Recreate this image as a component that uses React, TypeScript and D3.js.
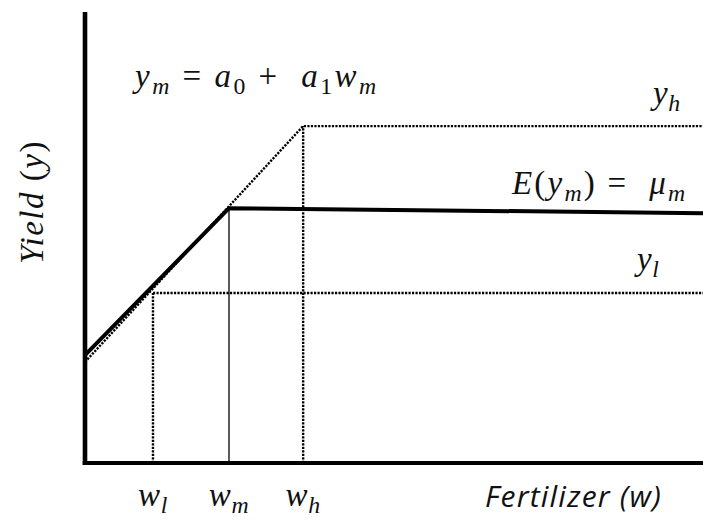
import React from 'react';
import * as d3 from 'd3';

const width = 703;
const height = 520;
const margin = { top: 12, left: 85, right: 0, bottom: 57 };

// fertilizer levels w_l, w_m, w_h (0-100 scale) and the yield reached at each
const wLevels = [11, 23.3, 35.3];
const wSubs = ['l', 'm', 'h'];
const wDotted = [true, false, true];
const wTops = [37.7, 56.5, 74.7];

// E(y_m) = mu_m, solid
const meanX = [0, 23.3, 100];
const meanY = [23.9, 56.5, 55.4];
// y_h, dotted
const highX = [0, 35.3, 100];
const highY = [22.4, 74.7, 74.7];
// y_l, dotted
const lowX = [11, 100];
const lowY = [37.7, 37.7];

const mathFont = "'Liberation Serif', serif";
const dots = '2.2 1.3';
const dotWidth = 2.4;

type Part = { t: string; sub?: boolean; up?: boolean };

function MathText({ x, y, parts, size = 33, anchor = 'start', transform, spacing = 0.6 }: { x?: number; y?: number; parts: Part[]; size?: number; anchor?: string; transform?: string; spacing?: number }) {
  let inSub = false;
  const shift = size * 0.2;
  return (
    <text x={x} y={y} transform={transform} fontFamily={mathFont} fontSize={size} fontStyle="italic"
      textAnchor={anchor} fill="#111" letterSpacing={spacing} style={{ whiteSpace: 'pre' }}>
      {parts.map((p, i) => {
        let dy = 0;
        if (p.sub && !inSub) dy = shift;
        if (!p.sub && inSub) dy = -shift;
        inSub = !!p.sub;
        return (
          <tspan key={i} dy={dy || undefined} fontSize={p.sub ? size * 0.72 : undefined}
            fontStyle={p.up ? 'normal' : undefined}>{p.t}</tspan>
        );
      })}
    </text>
  );
}

export default function App() {
  const x = d3.scaleLinear([0, 100], [margin.left, width - margin.right]);
  const y = d3.scaleLinear([0, 100], [height - margin.bottom, margin.top]);
  const line = (xs: number[], ys: number[]) =>
    d3.line<number>().x(i => x(xs[i])).y(i => y(ys[i]))(d3.range(xs.length)) || '';

  return (
    <div style={{ position: 'absolute', left: 0, top: 0 }}>
      <svg width={width} height={height} style={{ display: 'block', background: '#fff' }}>
        {/* guide lines */}
        <path d={line(lowX, lowY)} fill="none" stroke="#000" strokeWidth={dotWidth} strokeDasharray={dots} />
        <path d={line(highX, highY)} fill="none" stroke="#000" strokeWidth={dotWidth} strokeDasharray={dots} />
        {wLevels.map((w, i) => (
          <line key={i} x1={x(w)} x2={x(w)} y1={y(0)} y2={y(wTops[i])} stroke="#000"
            strokeWidth={wDotted[i] ? dotWidth : 1.3} strokeDasharray={wDotted[i] ? dots : undefined} />
        ))}
        <path d={line(meanX, meanY)} fill="none" stroke="#000" strokeWidth={4} strokeLinejoin="miter" />

        {/* axes */}
        <line x1={x(0)} x2={x(0)} y1={y(100)} y2={y(0) + 2} stroke="#000" strokeWidth={4.6} />
        <line x1={x(0) - 2.3} x2={x(100)} y1={y(0)} y2={y(0)} stroke="#000" strokeWidth={4} />

        {/* labels */}
        <MathText x={135} y={87} spacing={2.5} parts={[
          { t: 'y' }, { t: 'm', sub: true }, { t: ' = ', up: true }, { t: 'a' }, { t: '0', sub: true, up: true },
          { t: ' +  ', up: true }, { t: 'a' }, { t: '1', sub: true, up: true }, { t: 'w' }, { t: 'm', sub: true },
        ]} />
        <MathText x={653} y={y(highY[2]) - 22} parts={[{ t: 'y' }, { t: 'h', sub: true }]} />
        <MathText x={512} y={194} spacing={2.2} parts={[
          { t: 'E', }, { t: '(', up: true }, { t: 'y' }, { t: 'm', sub: true }, { t: ') =  ', up: true },
          { t: 'μ' }, { t: 'm', sub: true },
        ]} />
        <MathText x={637} y={y(lowY[1]) - 23} parts={[{ t: 'y' }, { t: 'l', sub: true }]} />
        <MathText transform="translate(43,202) rotate(-90)" anchor="middle" size={33} spacing={1.5} parts={[
          { t: 'Yield ' }, { t: '(', up: true }, { t: 'y' }, { t: ')', up: true },
        ]} />
        {wLevels.map((w, i) => (
          <MathText key={i} x={x(w)} y={506} anchor="middle" parts={[{ t: 'w' }, { t: wSubs[i], sub: true }]} />
        ))}
        <text x={485} y={507} fontFamily="'Open Sans', sans-serif" fontStyle="italic" fontSize={30}
          letterSpacing={1.2} fill="#111">
          Fertilizer (w)
        </text>
      </svg>
    </div>
  );
}
